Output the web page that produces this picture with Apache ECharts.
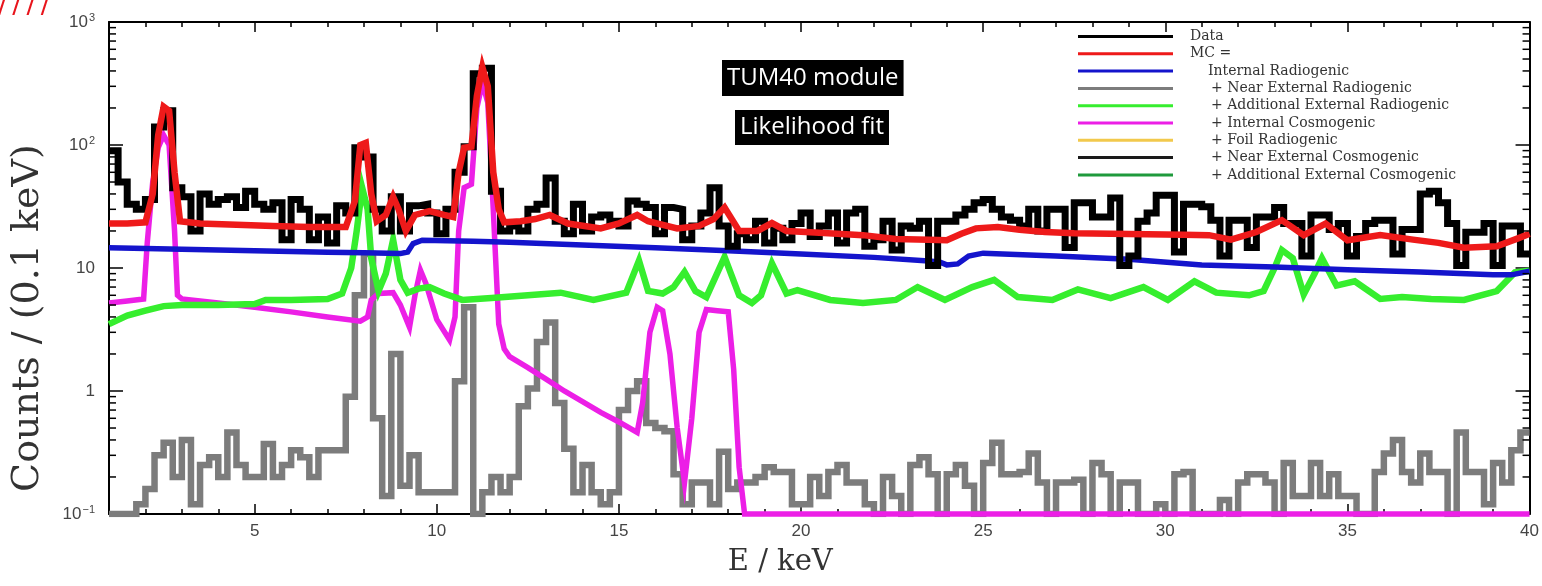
<!DOCTYPE html>
<html><head><meta charset="utf-8">
<script src="https://cdn.jsdelivr.net/npm/echarts@6/dist/echarts.min.js"></script>
<style>html,body{margin:0;padding:0;background:#fff}#c{width:1542px;height:586px}</style>
</head><body><div id="c"></div>
<script>
// ---- data (histogram bins start at 1 keV, 0.25 keV wide) ----
const binStart = 1.0, binWidth = 0.25;
const dataCounts = [
 90,50,33,30, 36,140,190,45, 38,20,40,33, 36,38,31,42, 33,30,34,17,
 36,30,17,26, 16,32,28,95, 80,30,20,38, 20,32,33,28, 19,30,60,97,
 380,420,42,20, 22,20,30,33, 54,24,19,33, 20,26,27,24, 22,35,33,31,
 19,31,30,17, 22,28,45,22, 15,19,17,24, 16,21,17,23, 28,18,22,28,
 16,28,30,15, 17,24,14,22, 21,24,10.5,24, 24,27,30,34, 36,30,26,24.5,
 22,30,20,30, 30,14.7,34,34, 26,26,37,10.5, 12.5,24,28,39, 39,13.5,33,33,
 31.5,24.5,12.5,24.5, 24.5,14.7,26,26, 31,23,23,12.5, 27,27,20.6,23, 12.5,18,23,24.5,
 24.5,13,20.6,20.6, 40,42,34,23, 10.5,19.5,19.5,23, 10.5,22,22,13
];
const nearExtRadiogenic = [
 0.1,0.1,0.1,0.12, 0.16,0.3,0.38,0.2, 0.4,0.12,0.25,0.29, 0.2,0.46,0.25,0.2, 0.2,0.37,0.2,0.25,
 0.33,0.29,0.2,0.33, 0.33,0.33,0.9,6, 13,0.6,0.14,2.0, 0.17,0.3,0.15,0.15, 0.15,0.15,1.2,4.8,
 0.1,0.15,0.2,0.15, 0.2,0.75,1.05,2.5, 3.6,0.8,0.34,0.15, 0.25,0.15,0.12,0.15, 0.7,1.0,1.2,0.55,
 0.5,0.47,0.21,0.12, 0.18,0.18,0.12,0.32, 0.16,0.18,0.18,0.2, 0.24,0.22,0.22,0.12, 0.12,0.2,0.14,0.22,
 0.25,0.18,0.18,0.12, 0.1,0.2,0.14,0.1, 0.25,0.29,0.21,0.1, 0.21,0.25,0.17,0.1, 0.26,0.38,0.21,0.21,
 0.22,0.31,0.18,0.1, 0.18,0.18,0.19,0.1, 0.26,0.21,0.1,0.18, 0.18,0.1,0.1,0.12, 0.1,0.21,0.22,0.1,
 0.1,0.1,0.13,0.1, 0.18,0.21,0.21,0.18, 0.1,0.26,0.14,0.14, 0.26,0.14,0.21,0.14, 0.14,0.1,0.1,0.22,
 0.31,0.4,0.22,0.18, 0.31,0.22,0.22,0.1, 0.46,0.22,0.22,0.12, 0.26,0.18,0.33,0.46
];
const mcTotalE = [1.0,1.5,2.0,2.2,2.35,2.5,2.65,2.8,2.95,3.5,4.5,5.5,6.5,7.5,7.75,7.9,8.05,8.2,8.35,8.6,8.8,8.95,9.15,9.4,9.8,10.2,10.45,10.6,10.75,10.95,11.1,11.25,11.4,11.55,11.7,11.85,12.3,12.7,13.1,13.6,14.5,15.0,15.5,15.8,16.6,17.2,17.6,17.9,18.3,18.8,19.2,19.6,20.0,21.0,21.7,22.6,23.5,24.0,24.4,24.8,25.4,26.0,26.7,27.5,28.5,29.5,30.5,31.2,31.8,32.5,33.2,33.8,34.4,35.0,35.9,36.8,37.5,38.2,39.1,39.7,40.0];
const mcTotalV = [23,23,23.5,40,120,205,190,60,24,23,22.5,22,21.5,21.5,35,100,104,40,24,27,38,30,20,27,29,27,26,60,95,97,250,430,300,60,30,23.5,24,25,27,23,21,23,27,24,21,22,25,31,20,20,23.2,20,19.7,19,18.5,17.2,17,16.8,19,21,21.5,20.5,19.6,19.2,19,18.8,18.6,18.5,17,19.6,24.5,18.5,23,16.8,18.5,17,16,14.6,15,17.5,19];
const intRadioE = [1,3,5,7,8,9.0,9.2,9.35,9.6,11,12,14,16,18,20,22,23.5,23.8,24.0,24.3,24.6,25.0,27,29,31,33,35,37,39,39.5,40];
const intRadioV = [14.6,14.2,13.8,13.4,13.3,13.1,13.5,15.8,16.8,16.5,16.2,15.4,14.6,13.8,13.0,12.2,11.4,11.2,10.6,10.8,12.5,13.2,12.5,11.8,10.6,10.2,9.7,9.3,8.8,8.8,9.4];
const addExtRadioE = [1,1.5,2.0,2.5,3.0,4.0,5.0,5.3,6.0,7.0,7.4,7.65,7.8,7.95,8.1,8.2,8.4,8.6,8.8,9.0,9.2,9.5,9.8,10.2,10.7,11.5,12.5,13.4,14.3,15.2,15.55,15.8,16.2,16.5,16.8,17.1,17.4,17.9,18.3,18.65,18.9,19.2,19.6,19.9,20.8,21.7,22.6,23.2,23.95,24.7,25.3,25.95,26.9,27.6,28.5,29.4,30.07,30.8,31.4,32.3,32.7,33.0,33.2,33.5,33.8,34.1,34.3,34.7,35.2,35.9,36.5,37.3,38.2,39.1,39.6,40];
const addExtRadioV = [3.5,4.1,4.5,4.9,5.0,5.0,5.1,5.5,5.5,5.6,6.2,10,20,45,30,12,6.5,9,17,8,6.3,6.8,7.0,6.2,5.5,5.7,6.0,6.3,5.5,6.3,11.5,6.5,6.2,7.0,9.3,6.5,5.8,12.3,6.0,5.2,6.0,10.9,6.2,6.6,5.5,5.2,5.5,7.0,5.5,7.0,8.0,5.8,5.5,6.7,5.7,7.0,5.5,7.8,6.3,6.0,6.5,10,14,12,6.1,9,12,7.2,7.8,5.6,5.8,5.6,5.5,6.5,9.2,9.5];
const intCosmoE = [1.0,1.5,1.95,2.05,2.2,2.35,2.5,2.65,2.8,2.88,3.0,4.0,5.0,6.0,7.0,7.9,8.1,8.2,8.4,8.8,9.0,9.25,9.4,9.55,9.7,10.0,10.35,10.5,10.6,10.75,10.95,11.1,11.25,11.4,11.55,11.7,11.85,12.0,12.5,13.0,13.5,14.0,14.5,15.0,15.5,15.65,15.85,16.05,16.2,16.4,16.6,16.8,17.0,17.2,17.4,17.7,18.0,18.15,18.3,18.45,40];
const intCosmoV = [5.2,5.4,5.6,16,50,95,120,100,20,6.0,5.6,5.2,4.8,4.4,4.0,3.7,4.0,5.5,6.2,6.3,5.0,3.3,6,9.6,7.5,3.8,2.6,4,20,45,48,200,320,220,30,3.5,2.2,1.9,1.55,1.25,1.0,0.82,0.67,0.56,0.46,0.8,3.0,4.8,4.5,2,0.5,0.18,0.6,3,4.6,4.5,4.4,1.5,0.24,0.1,0.1];
const xMajorTicks = [5,10,15,20,25,30,35,40];
const xMinorTicks = [2,3,4,6,7,8,9,11,12,13,14,16,17,18,19,21,22,23,24,26,27,28,29,31,32,33,34,36,37,38,39];
const yDecades = [0.1,1,10,100,1000];
const legendNames = ['Data','MC =','Internal Radiogenic','+ Near External Radiogenic','+ Additional External Radiogenic','+ Internal Cosmogenic','+ Foil Radiogenic','+ Near External Cosmogenic','+ Additional External Cosmogenic'];

// ---- build ----
function hist(vals){const o=vals.map((v,i)=>[binStart+i*binWidth,v]);o.push([binStart+vals.length*binWidth,vals[vals.length-1]]);return o;}
function pairs(E,V){return E.map((e,i)=>[e,V[i]]);}
const yMinor=[];
for(let k=0;k<yDecades.length-1;k++){for(let m=2;m<=9;m++){yMinor.push([1,+(yDecades[k]*m).toPrecision(3)]);}}

function yLabel(v){
  const e=Math.round(Math.log10(v));
  if(e===1) return '{n|10}';
  if(e===0) return '{n|1}';
  return '{n|10}{s|'+(e<0?'−1':String(e))+'}';
}
const axisBlack={color:'#000',width:2};
const tickFont={fontFamily:'Liberation Sans, Arial',fontSize:17,color:'#444'};
function lineSeries(name,data,color,width,z,extra){
  return Object.assign({name,type:'line',data,symbol:'none',showSymbol:false,z,
    lineStyle:{color,width,join:'miter'},itemStyle:{color},emphasis:{disabled:true},animation:false},extra||{});
}
const legendRich={
  a:{fontFamily:'DejaVu Serif',fontSize:14,color:'#333',lineHeight:15,padding:[0,0,0,12]},
  b:{fontFamily:'DejaVu Serif',fontSize:14,color:'#333',lineHeight:15,padding:[0,0,0,30]},
  c:{fontFamily:'DejaVu Serif',fontSize:14,color:'#333',lineHeight:15,padding:[0,0,0,33]}};
const chart=echarts.init(document.getElementById('c'),null,{renderer:'canvas'});
chart.setOption({
  backgroundColor:'#fff',
  animation:false,
  grid:{left:109,right:10,top:22,bottom:72},
  xAxis:[
    {type:'value',min:1,max:40,position:'bottom',axisLine:{lineStyle:axisBlack},
     axisTick:{inside:true,length:10,customValues:xMajorTicks,lineStyle:{color:'#000',width:1.5}},
     axisLabel:Object.assign({customValues:xMajorTicks,margin:9},tickFont),splitLine:{show:false},
     name:'E / keV',nameLocation:'middle',nameGap:34,
     nameTextStyle:{fontFamily:'DejaVu Serif',fontSize:29,color:'#333',padding:[0,78,0,0]}},
    {type:'value',min:1,max:40,position:'bottom',axisLine:{show:false},
     axisTick:{inside:true,length:5,customValues:xMinorTicks,lineStyle:{color:'#000',width:1.5}},
     axisLabel:{show:false},splitLine:{show:false}},
    {type:'value',min:1,max:40,position:'top',axisLine:{lineStyle:axisBlack},
     axisTick:{inside:true,length:10,customValues:xMajorTicks,lineStyle:{color:'#000',width:1.5}},
     axisLabel:{show:false},splitLine:{show:false}},
    {type:'value',min:1,max:40,position:'top',axisLine:{show:false},
     axisTick:{inside:true,length:5,customValues:xMinorTicks,lineStyle:{color:'#000',width:1.5}},
     axisLabel:{show:false},splitLine:{show:false}}
  ],
  yAxis:[
    {type:'log',logBase:10,min:0.1,max:1000,position:'left',axisLine:{lineStyle:axisBlack},
     axisTick:{inside:true,length:14,lineStyle:{color:'#000',width:1.5}},
     axisLabel:{formatter:yLabel,margin:14,rich:{
        n:{fontFamily:'Liberation Sans, Arial',fontSize:17,color:'#444'},
        s:{fontFamily:'Liberation Sans, Arial',fontSize:11,color:'#444',verticalAlign:'bottom',padding:[0,0,9,1]}}},
     splitLine:{show:false},
     name:'Counts / (0.1 keV)',nameLocation:'middle',nameGap:62,
     nameTextStyle:{fontFamily:'DejaVu Serif',fontSize:38,color:'#333',padding:[0,100,0,0]}},
    {type:'log',logBase:10,min:0.1,max:1000,position:'right',axisLine:{lineStyle:axisBlack},
     axisTick:{inside:true,length:14,lineStyle:{color:'#000',width:1.5}},
     axisLabel:{show:false},splitLine:{show:false}}
  ],
  legend:{
    data:legendNames,orient:'vertical',left:1073,top:24,itemWidth:95,itemHeight:3,itemGap:2.3,
    icon:'rect',selectedMode:false,
    formatter:function(name){const i=legendNames.indexOf(name);const c=i<2?'a':(i===2?'b':'c');return '{'+c+'|'+name+'}';},
    textStyle:{fontFamily:'DejaVu Serif',fontSize:14,color:'#333',lineHeight:15,rich:legendRich}
  },
  graphic:[
    {type:'text',left:722,top:60,z:100,style:{text:'TUM40 module',fill:'#fff',backgroundColor:'#000',
      font:'24px "Open Sans"',padding:[3,5,3,5],lineHeight:30}},
    {type:'text',left:735,top:110,z:100,style:{text:'Likelihood fit',fill:'#fff',backgroundColor:'#000',
      font:'24px "Open Sans"',padding:[3,5,3,5],lineHeight:29}},
    {type:'text',left:-2,top:-2,z:100,style:{text:'/ / / /',fill:'#e8141c',font:'bold 20px "DejaVu Sans"'}}
  ],
  series:[
    lineSeries('+ Near External Radiogenic',hist(nearExtRadiogenic),'#7c7c7c',6.5,1,{step:'end'}),
    lineSeries('+ Internal Cosmogenic',pairs(intCosmoE,intCosmoV),'#ec1fe6',5.5,2,{clip:false}),
    lineSeries('+ Additional External Radiogenic',pairs(addExtRadioE,addExtRadioV),'#36ee2e',6.5,3),
    lineSeries('Internal Radiogenic',pairs(intRadioE,intRadioV),'#1414cc',5.5,4),
    lineSeries('Data',hist(dataCounts),'#000000',7,5,{step:'end'}),
    lineSeries('MC =',pairs(mcTotalE,mcTotalV),'#ee1a1a',6.5,6),
    lineSeries('+ Foil Radiogenic',[],'#f2c94c',3,0),
    lineSeries('+ Near External Cosmogenic',[],'#1a1a1a',3,0),
    lineSeries('+ Additional External Cosmogenic',[],'#1f9a3c',3,0),
    {type:'custom',name:'minorTicks',data:yMinor,silent:true,z:10,animation:false,
     renderItem:function(params,api){
       const p=api.coord([api.value(0),api.value(1)]);
       const cs=params.coordSys;
       return {type:'group',children:[
         {type:'line',shape:{x1:cs.x,y1:p[1],x2:cs.x+7,y2:p[1]},style:{stroke:'#000',lineWidth:1.5}},
         {type:'line',shape:{x1:cs.x+cs.width,y1:p[1],x2:cs.x+cs.width-7,y2:p[1]},style:{stroke:'#000',lineWidth:1.5}}
       ]};
     }}
  ]
});
</script></body></html>
